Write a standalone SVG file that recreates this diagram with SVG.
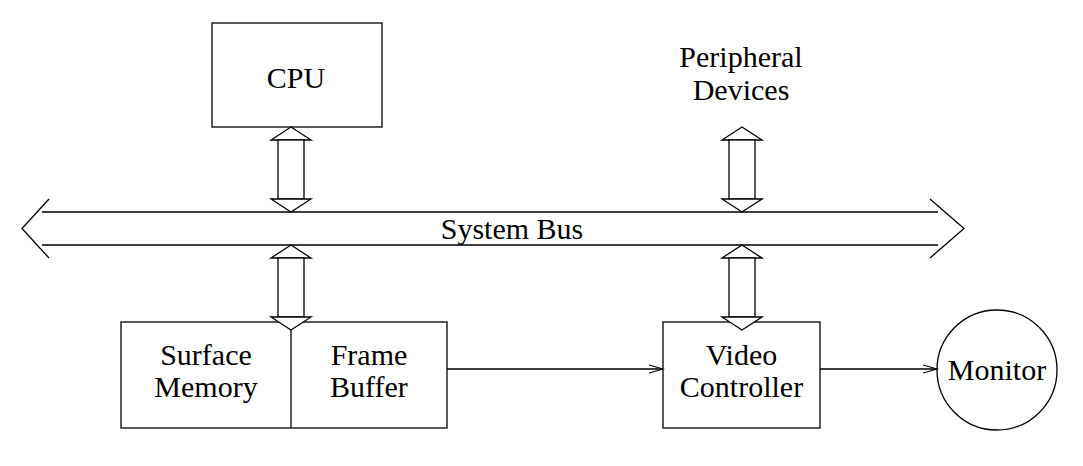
<svg xmlns="http://www.w3.org/2000/svg" width="1083" height="466" viewBox="0 0 1083 466">
<style>
  .box{fill:#fff;stroke:#000;stroke-width:1.3}
  .ln{fill:none;stroke:#000;stroke-width:1.3}
  .t{font-family:"Liberation Serif","Times New Roman",serif;font-size:30px;fill:#000;text-anchor:middle}
</style>
<defs>
  <marker id="ah" markerWidth="16" markerHeight="10" refX="14" refY="5" orient="auto" markerUnits="userSpaceOnUse">
    <path d="M0,1 L14,5 L0,9" fill="none" stroke="#000" stroke-width="1.2"/>
  </marker>
  <g id="dbl">
    <polygon points="0,0 20,13 -20,13" class="box"/>
    <rect x="-13" y="13" width="26" height="59" class="box"/>
    <polygon points="0,85 20,72 -20,72" class="box"/>
  </g>
</defs>
<g id="cpu">
  <rect x="212" y="23" width="170" height="104" class="box"/>
  <text x="296" y="88" class="t">CPU</text>
</g>
<g id="peripheral">
  <text x="741" y="67" class="t">Peripheral</text>
  <text x="741" y="100" class="t">Devices</text>
</g>
<g id="bus">
  <path d="M42,212 H938 M42,245 H938" class="ln"/>
  <path d="M49,199 L22,228.5 L49,258" class="ln"/>
  <path d="M930,199 L964,228.5 L930,258" class="ln"/>
  <text x="512" y="239" class="t">System Bus</text>
</g>
<g id="memory">
  <rect x="121" y="322" width="326" height="106" class="box"/>
  <path d="M291,322 V428" class="ln"/>
  <text x="206" y="365" class="t">Surface</text>
  <text x="206" y="397" class="t">Memory</text>
  <text x="369" y="365" class="t">Frame</text>
  <text x="369" y="397" class="t">Buffer</text>
</g>
<g id="video">
  <rect x="663" y="322" width="157" height="106" class="box"/>
  <text x="741.5" y="365" class="t">Video</text>
  <text x="741.5" y="397" class="t">Controller</text>
</g>
<g id="monitor">
  <circle cx="997" cy="370" r="60" class="box"/>
  <text x="997" y="380" class="t">Monitor</text>
</g>
<g id="connectors">
  <use href="#dbl" x="291" y="127"/>
  <use href="#dbl" x="742" y="127"/>
  <use href="#dbl" x="291" y="245"/>
  <use href="#dbl" x="742" y="245"/>
  <path d="M447,369 H663" class="ln" marker-end="url(#ah)"/>
  <path d="M820,369 H937" class="ln" marker-end="url(#ah)"/>
</g>
</svg>
